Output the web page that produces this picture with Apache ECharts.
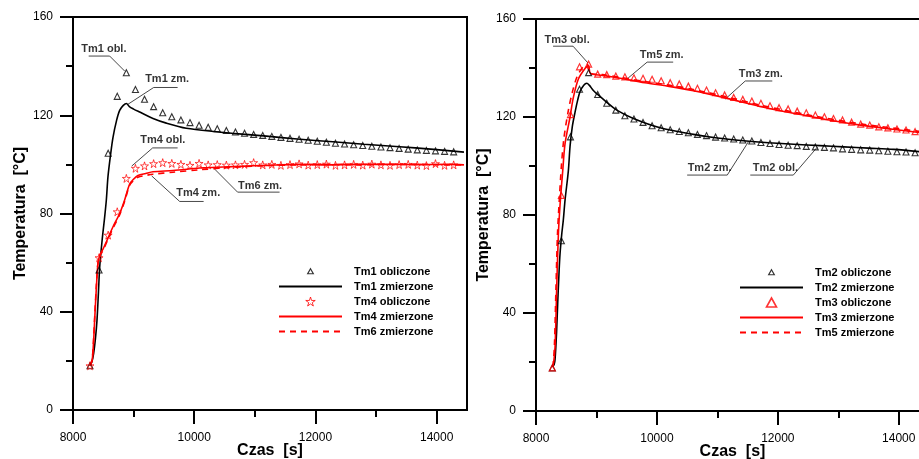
<!DOCTYPE html>
<html>
<head>
<meta charset="utf-8">
<script src="https://cdn.jsdelivr.net/npm/echarts@6/dist/echarts.min.js"></script>
<style>
html,body{margin:0;padding:0;background:#fff;}
#c{width:919px;height:459px;}
</style>
</head>
<body>
<div id="c"></div>
<script>
// ---------- data ----------
var xTickLabels = [8000, 10000, 12000, 14000];
var yTickLabels = [0, 40, 80, 120, 160];

// left chart: computed points every 150 s
var tm1ObStart = 8280, obStep = 150;
var tm1Obliczone = [18, 57, 104.5, 127.7, 137.3, 130.5, 126.5, 123.5, 121.0, 119.4, 118.1, 117.0, 115.9, 115.1, 114.5, 113.8,
  113.2, 112.7, 112.2, 111.8, 111.4, 111.0, 110.6, 110.2, 109.8, 109.4, 109.0, 108.6, 108.3, 108.0, 107.7, 107.4, 107.1,
  106.8, 106.5, 106.2, 105.9, 105.7, 105.5, 105.3, 105.1];
var tm4Obliczone = [18, 62, 71.2, 80.7, 94.3, 98.4, 99.4, 100.3, 100.7, 100.4, 100.0, 99.6, 100.4, 99.8, 99.9, 99.7, 99.8,
  100.0, 100.7, 99.8, 100.0, 99.6, 99.9, 100.2, 99.7, 99.9, 100.1, 99.6, 99.8, 100.0, 99.7, 100.1, 99.8, 99.6, 99.9, 100.0,
  99.7, 99.5, 100.3, 99.6, 99.8];
var tm1Zmierzone = [[8280,18],[8310,19.5],[8340,23],[8370,29],[8396,36.6],[8420,48],[8440,58],[8480,69],[8520,78],[8550,85.5],
  [8577,95],[8620,104],[8660,111],[8720,118],[8770,122],[8830,124],[8880,124.8],[8930,123.5],[9000,122.5],[9100,121.3],
  [9320,118.7],[9540,116.8],[9870,114.7],[10365,113.3],[10800,112.3],[11190,111.5],[11700,110.3],[12288,109.2],[12800,108.2],
  [13388,107.2],[13900,106.2],[14450,105.0]];
var tm4Zmierzone = [[8280,18],[8300,19],[8320,21],[8340,28],[8358,37],[8386,50],[8413,60],[8450,63.5],[8495,65.5],[8577,70],
  [8660,74.6],[8770,80],[8852,85.5],[8935,92],[9000,94],[9072,95.5],[9200,96.3],[9320,97],[9649,97.5],[10089,98.5],[10199,98.6],
  [10748,99.2],[11200,99.6],[11738,100],[12200,99.8],[12700,100],[13200,100],[13700,99.9],[14200,100],[14450,99.8]];
var tm6Zmierzone = [[8280,18],[8300,19],[8320,21.5],[8340,29],[8358,38],[8386,51],[8413,60],[8450,63],[8495,65],[8577,69.5],
  [8660,74],[8770,79.5],[8852,85],[8935,91.5],[9000,93.5],[9072,94.8],[9200,95.5],[9320,96],[9649,96.8],[10089,97.8],[10400,98.4],
  [10748,99],[11200,99.5],[11738,99.8],[12200,100],[12700,99.8],[13200,100],[13700,100],[14200,99.8],[14450,99.8]];

// right chart
var tm2ObStart = 8270;
var tm2Obliczone = [17.6, 69.5, 111.9, 131.3, 138.1, 129.2, 125.6, 122.8, 120.5, 119.2, 117.8, 116.4, 115.6, 114.8, 114.1,
  113.6, 112.9, 112.4, 111.8, 111.4, 111.0, 110.6, 110.2, 109.6, 109.2, 108.8, 108.5, 108.3, 108.0, 107.8, 107.6, 107.4,
  107.0, 106.8, 106.6, 106.5, 106.2, 106.0, 105.8, 105.7, 105.4];
var tm3Obliczone = [17.6, 88, 121, 140.5, 141.6, 137.5, 137.3, 136.7, 136.4, 136.0, 135.8, 135.4, 134.8, 134.0, 133.5, 132.6,
  131.7, 131.0, 129.9, 129.0, 128.0, 127.2, 126.5, 125.6, 124.6, 123.8, 123.3, 122.4, 121.7, 120.8, 120.1, 119.4, 118.8,
  117.9, 117.1, 116.7, 116.0, 115.6, 115.1, 114.7, 114.0];
var tm2Zmierzone = [[8270,18],[8300,19],[8315,21],[8340,32],[8359,44],[8380,56],[8397,64],[8425,72],[8452,78],[8480,86],
  [8535,98],[8563,108],[8600,116],[8646,122],[8690,127],[8730,130.5],[8790,133],[8840,133.8],[8880,133],[8949,130.8],
  [9005,129.5],[9171,126],[9336,122.8],[9611,119.4],[10053,115.6],[10605,112.9],[11000,111.4],[11433,110.3],[11850,109.5],
  [12261,108.9],[12700,108.3],[13089,107.8],[13500,107.3],[13917,106.8],[14450,105.6]];
var tm3Zmierzone = [[8270,18],[8290,19.5],[8315,26],[8342,50],[8370,72],[8400,85],[8442,98],[8480,109],[8563,120],[8618,128],
  [8701,135.5],[8811,139.8],[8870,141],[8900,137.8],[9100,137],[9391,135.8],[9800,134],[10200,132.5],[10605,130.7],
  [11157,127.6],[11700,124.3],[12261,121.5],[12800,119],[13366,116.7],[13900,115],[14450,113.3]];
var tm5Zmierzone = [[8270,18],[8285,19.5],[8305,27],[8330,50],[8355,72],[8385,86],[8420,100],[8460,111],[8530,122],[8600,130],
  [8680,136.5],[8780,140.5],[8850,141.5],[8880,138],[9100,137.3],[9391,136.2],[9800,134.5],[10200,133],[10605,131.2],
  [11157,128.2],[11700,124.9],[12261,122],[12800,119.5],[13366,117.2],[13900,115.5],[14450,113.8]];

// annotations (data coordinates): text anchor and leader polyline
var leftNotes = [
  {text:'Tm1 obl.', at:[8128,147.0], lead:[[8259,144.1],[8605,144.1],[8852,138.0]]},
  {text:'Tm1 zm.',  at:[9182,134.8], lead:[[9726,131.3],[9331,131.3],[8902,124.4]]},
  {text:'Tm4 obl.', at:[9100,109.9], lead:[[9726,106.7],[9314,106.7],[8968,99.3]]},
  {text:'Tm4 zm.',  at:[9694,88.3],  lead:[[10155,84.9],[9760,84.9],[9298,95.3]]},
  {text:'Tm6 zm.',  at:[10715,91.2], lead:[[11408,88.7],[10715,88.7],[10336,98.1]]}
];
var rightNotes = [
  {text:'Tm3 obl.', at:[8132,151.4], lead:[[8282,148.9],[8613,148.9],[8861,142.0]]},
  {text:'Tm5 zm.',  at:[9706,145.3], lead:[[10269,142.4],[9838,142.4],[9524,135.9]]},
  {text:'Tm3 zm.',  at:[11345,137.5], lead:[[11908,134.7],[11461,134.7],[11130,127.3]]},
  {text:'Tm2 zm.',  at:[10500,99.1], lead:[[10500,96.3],[11163,96.3],[11511,109.8]]},
  {text:'Tm2 obl.', at:[11577,99.1], lead:[[11544,96.3],[12256,96.3],[12653,107.7]]}
];

// ---------- build ----------
var FONT = '"Liberation Sans", Arial, sans-serif';
var STAR = 'path://M50,0 L61,35 L98,35 L68,57 L79,91 L50,70 L21,91 L32,57 L2,35 L39,35 Z';
var TRI_SMALL = 'path://M-3,-3 M13,13 M5,0 L10,9 L0,9 Z';
var TRI = 'path://M5,0 L10,9 L0,9 Z';

function pts(start, vals) { return vals.map(function (v, i) { return [start + i * obStep, v]; }); }

function xAx(gi) {
  return {
    type: 'value', gridIndex: gi, min: 8000, max: 14500, interval: 2000,
    name: 'Czas  [s]', nameLocation: 'middle', nameGap: 33, nameMoveOverlap: false,
    nameTextStyle: {fontFamily: FONT, fontWeight: 'bold', fontSize: 16, color: '#000'},
    axisLine: {show: true, lineStyle: {color: '#000', width: 2}},
    axisTick: {show: true, length: 14, lineStyle: {color: '#000', width: 2}, customValues: xTickLabels},
    minorTick: {show: true, splitNumber: 2, length: 7, lineStyle: {color: '#000', width: 2}},
    axisLabel: {fontFamily: FONT, fontSize: 12, color: '#000', margin: 22, customValues: xTickLabels,
      formatter: function (v) { return xTickLabels.indexOf(v) >= 0 ? String(v) : ''; }},
    splitLine: {show: false}
  };
}
function yAx(gi) {
  return {
    type: 'value', gridIndex: gi, min: 0, max: 160, interval: 40,
    name: 'Temperatura  [°C]', nameLocation: 'middle', nameGap: 44,
    nameTextStyle: {fontFamily: FONT, fontWeight: 'bold', fontSize: 16, color: '#000'},
    axisLine: {show: true, lineStyle: {color: '#000', width: 2}},
    axisTick: {show: true, length: 13, lineStyle: {color: '#000', width: 2}},
    minorTick: {show: true, splitNumber: 2, length: 7, lineStyle: {color: '#000', width: 2}},
    axisLabel: {fontFamily: FONT, fontSize: 12, color: '#000', margin: 20,
      formatter: function (v) { return yTickLabels.indexOf(v) >= 0 ? String(v) : ''; }},
    splitLine: {show: false}
  };
}
function scat(name, gi, data, symbol, color, size, bw) {
  return {name: name, type: 'scatter', xAxisIndex: gi, yAxisIndex: gi, data: data, symbol: symbol, symbolSize: size,
    itemStyle: {color: 'rgba(0,0,0,0)', borderColor: color, borderWidth: bw}, z: 4};
}
function lin(name, gi, data, color, type) {
  return {name: name, type: 'line', xAxisIndex: gi, yAxisIndex: gi, data: data, symbol: 'none', smooth: 0.3,
    lineStyle: {color: color, width: 1.6, type: type}, itemStyle: {color: color}, z: 3};
}
function notes(list, gi) {
  var out = [];
  list.forEach(function (n) {
    out.push({type: 'line', xAxisIndex: gi, yAxisIndex: gi, data: n.lead, symbol: 'none', silent: true,
      lineStyle: {color: '#333', width: 0.9}, z: 2});
  });
  out.push({type: 'scatter', xAxisIndex: gi, yAxisIndex: gi, symbolSize: 1, silent: true,
    itemStyle: {color: 'rgba(0,0,0,0)'},
    data: list.map(function (n) { return {name: n.text, value: n.at}; }),
    label: {show: true, position: 'right', distance: 0, formatter: '{b}', fontFamily: FONT, fontWeight: 'bold',
      fontSize: 11, color: '#000'}, z: 5});
  return out;
}
var HIDE = {color: 'rgba(0,0,0,0)', borderColor: 'rgba(0,0,0,0)', borderWidth: 0};
function lgMark(name, icon, color, bw) {
  return {name: name, icon: icon, itemStyle: {color: 'rgba(0,0,0,0)', borderColor: color, borderWidth: bw}};
}
function lgLine(name) { return {name: name, itemStyle: HIDE}; }
function legend(left, top, items) {
  return {orient: 'vertical', left: left, top: top, itemWidth: 63, itemHeight: 9, itemGap: 4,
    data: items, selectedMode: false, symbolKeepAspect: true,
    textStyle: {fontFamily: FONT, fontWeight: 'bold', fontSize: 11, color: '#000', padding: [0, 0, 0, 7]}};
}

var series = [
  scat('Tm1 obliczone', 0, pts(tm1ObStart, tm1Obliczone), 'triangle', '#000', 6, 1.1),
  lin('Tm1 zmierzone', 0, tm1Zmierzone, '#000', 'solid'),
  scat('Tm4 obliczone', 0, pts(tm1ObStart, tm4Obliczone), STAR, '#ff0000', 8, 0.9),
  lin('Tm4 zmierzone', 0, tm4Zmierzone, '#ff0000', 'solid'),
  lin('Tm6 zmierzone', 0, tm6Zmierzone, '#ff0000', [6, 5]),
  scat('Tm2 obliczone', 1, pts(tm2ObStart, tm2Obliczone), 'triangle', '#000', 6, 1.1),
  lin('Tm2 zmierzone', 1, tm2Zmierzone, '#000', 'solid'),
  scat('Tm3 obliczone', 1, pts(tm2ObStart, tm3Obliczone), 'triangle', '#ff0000', 6, 1.2),
  lin('Tm3 zmierzone', 1, tm3Zmierzone, '#ff0000', 'solid'),
  lin('Tm5 zmierzone', 1, tm5Zmierzone, '#ff0000', [6, 5])
].concat(notes(leftNotes, 0), notes(rightNotes, 1));

var chart = echarts.init(document.getElementById('c'), null, {renderer: 'canvas'});
chart.setOption({
  animation: false,
  backgroundColor: '#fff',
  grid: [
    {left: 73, top: 17, width: 394, height: 393, show: true, borderColor: '#000', borderWidth: 2,
      backgroundColor: 'transparent', outerBoundsMode: 'none', containLabel: false},
    {left: 536, top: 19, width: 393, height: 392, show: true, borderColor: '#000', borderWidth: 2,
      backgroundColor: 'transparent', outerBoundsMode: 'none', containLabel: false}
  ],
  xAxis: [xAx(0), xAx(1)],
  yAxis: [yAx(0), yAx(1)],
  legend: [
    legend(273, 261, [lgMark('Tm1 obliczone', TRI_SMALL, '#000', 1.2), lgLine('Tm1 zmierzone'),
      lgMark('Tm4 obliczone', STAR, '#ff0000', 1), lgLine('Tm4 zmierzone'), lgLine('Tm6 zmierzone')]),
    legend(734, 262, [lgMark('Tm2 obliczone', TRI_SMALL, '#000', 1.2), lgLine('Tm2 zmierzone'),
      lgMark('Tm3 obliczone', TRI, '#ff0000', 1.6), lgLine('Tm3 zmierzone'), lgLine('Tm5 zmierzone')])
  ],
  series: series
});
</script>
</body>
</html>
